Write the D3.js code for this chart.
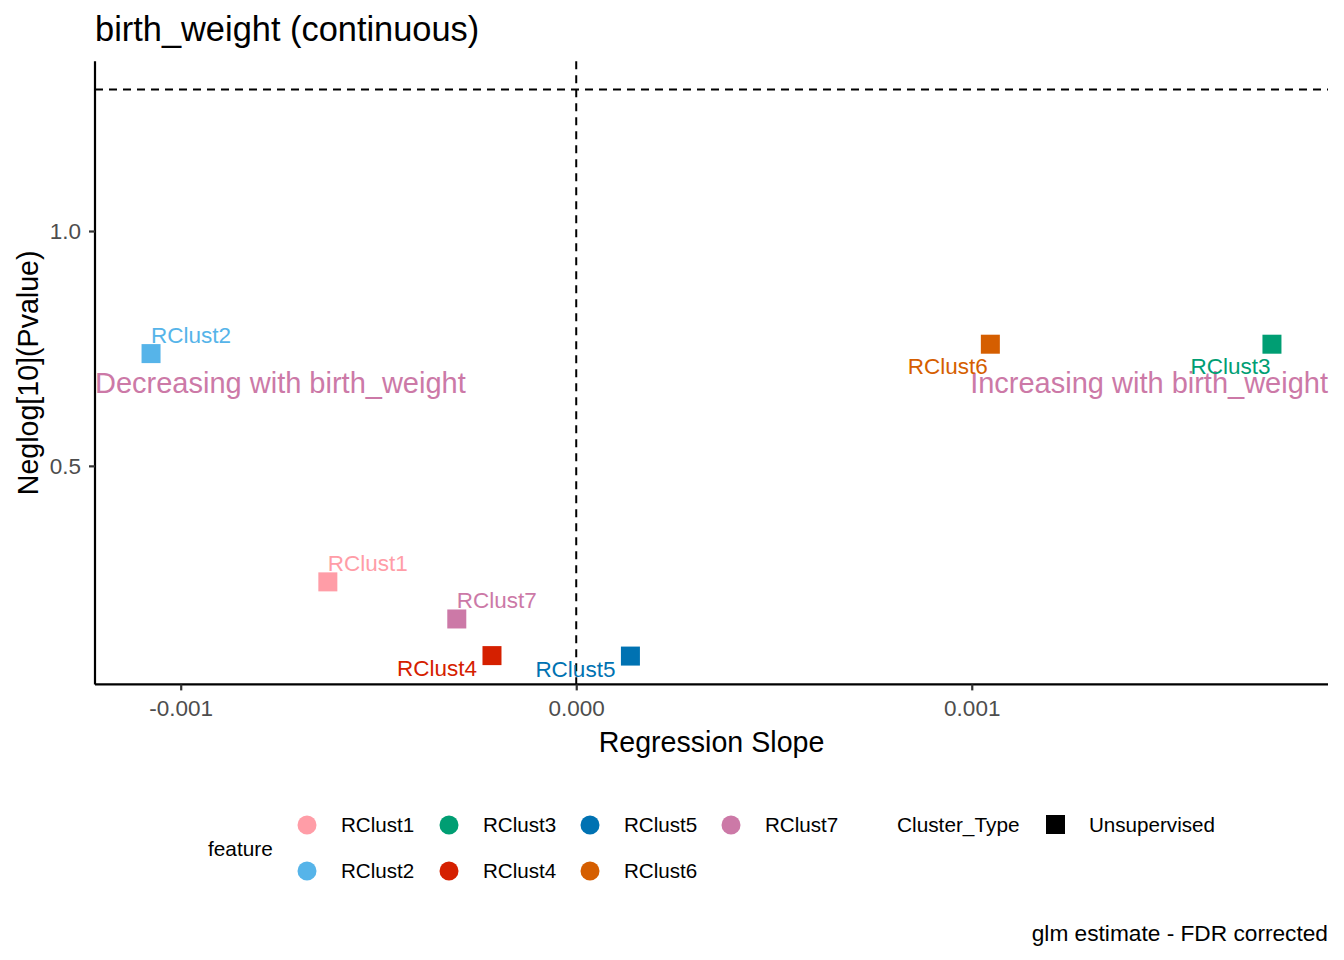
<!DOCTYPE html>
<html>
<head>
<meta charset="utf-8">
<script src="https://cdn.jsdelivr.net/npm/d3@7"></script>
<style>
  html, body { margin: 0; padding: 0; background: #fff; }
  svg { display: block; font-family: "Liberation Sans", Arial, sans-serif; }
</style>
</head>
<body>
<svg id="chart" width="1344" height="960"></svg>
<script>
// ---- data ----
const features = ["RClust1", "RClust2", "RClust3", "RClust4", "RClust5", "RClust6", "RClust7"];
const slopes   = [-0.000628, -0.001075, 0.001759, -0.000213, 0.000137, 0.001047, -0.000302];
const neglogP  = [0.253, 0.739, 0.759, 0.096, 0.095, 0.759, 0.174];
const colors   = ["#FF9DA7", "#56B4E9", "#009E73", "#D52000", "#0072B2", "#D55E00", "#CC79A7"];
const xTicks   = [-0.001, 0.000, 0.001];
const xTickLabels = ["-0.001", "0.000", "0.001"];
const yTicks   = [0.5, 1.0];
const yTickLabels = ["0.5", "1.0"];
const sigLine  = -Math.log10(0.05);
const annotY   = 0.677;
const annotLeft  = "Decreasing with birth_weight";
const annotRight = "Increasing with birth_weight";
// label placement (repel result): [dx, dy, anchor]
const labelPlace = [[0, -10.5, "start"], [0, -10.5, "start"], [-1.5, 29.7, "end"], [-15, 20.7, "end"],
                    [-15, 20.7, "end"], [-2.5, 29.7, "end"], [0, -11, "start"]];

// ---- layout ----
const svg = d3.select("#chart");
const L = 95, R = 1328, T = 61.3, B = 684.4;

const xr = d3.extent(slopes.concat([0]));
const xe = (xr[1] - xr[0]) * 0.05;
const x = d3.scaleLinear().domain([xr[0] - xe, xr[1] + xe]).range([L, R]);
const yr = d3.extent(neglogP.concat([sigLine]));
const ye = (yr[1] - yr[0]) * 0.05;
const y = d3.scaleLinear().domain([yr[0] - ye, yr[1] + ye]).range([B, T]);

// reference lines
svg.append("line").attr("x1", L).attr("x2", R).attr("y1", y(sigLine)).attr("y2", y(sigLine))
  .attr("stroke", "#000").attr("stroke-width", 2).attr("stroke-dasharray", "8,6");
svg.append("line").attr("x1", x(0)).attr("x2", x(0)).attr("y1", T).attr("y2", B)
  .attr("stroke", "#000").attr("stroke-width", 2).attr("stroke-dasharray", "8,6");

// axes
const xAxis = svg.append("g").attr("transform", `translate(0,${B})`)
  .call(d3.axisBottom(x).tickValues(xTicks).tickFormat((d, i) => xTickLabels[i]).tickSizeOuter(0).tickSize(6).tickPadding(10));
const yAxis = svg.append("g").attr("transform", `translate(${L},0)`)
  .call(d3.axisLeft(y).tickValues(yTicks).tickFormat((d, i) => yTickLabels[i]).tickSizeOuter(0).tickSize(6).tickPadding(8));
[xAxis, yAxis].forEach(g => {
  g.select(".domain").attr("stroke", "#000").attr("stroke-width", 2.2);
  g.selectAll(".tick line").attr("stroke", "#333").attr("stroke-width", 2.2);
  g.selectAll(".tick text").attr("fill", "#4D4D4D").attr("font-size", 22.5)
    .attr("font-family", "'Liberation Sans', Arial, sans-serif");
});
xAxis.select(".domain").attr("d", `M${L},0H${R}`);
yAxis.select(".domain").attr("d", `M0,${B}V${T}`);

// annotations
svg.append("text").attr("x", L).attr("y", y(annotY)).attr("dy", "0.35em")
  .attr("font-size", 29).attr("fill", "#CC79A7").text(annotLeft);
svg.append("text").attr("x", R).attr("y", y(annotY)).attr("dy", "0.35em").attr("text-anchor", "end")
  .attr("font-size", 29).attr("fill", "#CC79A7").text(annotRight);

// points
const data = features.map((f, i) => ({ f, s: slopes[i], p: neglogP[i], c: colors[i], lp: labelPlace[i] }));
const sq = 19;
svg.append("g").selectAll("rect").data(data).join("rect")
  .attr("x", d => x(d.s) - sq / 2).attr("y", d => y(d.p) - sq / 2)
  .attr("width", sq).attr("height", sq).attr("fill", d => d.c);

// labels
svg.append("g").selectAll("text").data(data).join("text")
  .attr("x", d => x(d.s) + d.lp[0]).attr("y", d => y(d.p) + d.lp[1])
  .attr("text-anchor", d => d.lp[2]).attr("font-size", 22.5).attr("fill", d => d.c).text(d => d.f);

// titles
svg.append("text").attr("x", L).attr("y", 41).attr("font-size", 34.4).attr("fill", "#000")
  .text("birth_weight (continuous)");
svg.append("text").attr("x", (L + R) / 2).attr("y", 752).attr("text-anchor", "middle")
  .attr("font-size", 28.6).attr("fill", "#000").text("Regression Slope");
svg.append("text").attr("transform", `translate(38,${(T + B) / 2}) rotate(-90)`).attr("text-anchor", "middle")
  .attr("font-size", 28.6).attr("fill", "#000").text("Neglog[10](Pvalue)");
svg.append("text").attr("x", R).attr("y", 941).attr("text-anchor", "end")
  .attr("font-size", 22.7).attr("fill", "#000").text("glm estimate - FDR corrected");

// legend: feature
const lg = svg.append("g");
lg.append("text").attr("x", 208).attr("y", 849).attr("dy", "0.35em").attr("font-size", 20.8).text("feature");
const colX = [307, 449, 590, 731];
const rowY = [825, 871];
features.forEach((f, i) => {
  const col = Math.floor(i / 2), row = i % 2;
  lg.append("circle").attr("cx", colX[col]).attr("cy", rowY[row]).attr("r", 9.5).attr("fill", colors[i]);
  lg.append("text").attr("x", colX[col] + 34).attr("y", rowY[row]).attr("dy", "0.35em")
    .attr("font-size", 20.6).text(f);
});
// legend: Cluster_Type
lg.append("text").attr("x", 897).attr("y", 825).attr("dy", "0.35em").attr("font-size", 20.8).text("Cluster_Type");
lg.append("rect").attr("x", 1046).attr("y", 815).attr("width", 19).attr("height", 19).attr("fill", "#000");
lg.append("text").attr("x", 1089).attr("y", 825).attr("dy", "0.35em").attr("font-size", 20.6).text("Unsupervised");
</script>
</body>
</html>
